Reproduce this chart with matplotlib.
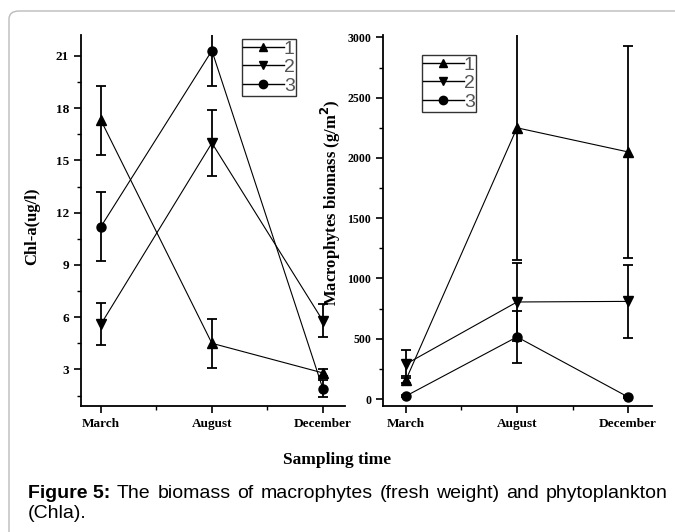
import matplotlib
matplotlib.use('Agg')
import matplotlib.pyplot as plt
from matplotlib.patches import FancyBboxPatch
from matplotlib.lines import Line2D
from matplotlib.ticker import MultipleLocator

months = ['March', 'August', 'December']
series_names = ['1', '2', '3']
markers = ['^', 'v', 'o']

# Chl-a (ug/l)
chla = [[17.3, 4.5, 2.8],
        [5.6, 16.0, 5.8],
        [11.2, 21.3, 1.9]]
chla_err = [[2.0, 1.4, 0.2],
            [1.2, 1.9, 0.95],
            [2.0, 2.0, 0.5]]

# macrophyte biomass
bio = [[160, 2250, 2050],
       [290, 805, 810],
       [25, 515, 17]]
bio_err = [[30, 1100, 880],
           [115, 320, 300],
           [10, 215, 10]]

caption_head = 'Figure 5:'
caption_words = ['The', 'biomass', 'of', 'macrophytes', '(fresh', 'weight)', 'and', 'phytoplankton']
caption_tail = '(Chla).'

serif = 'Liberation Serif'
W, H = 675, 532

fig = plt.figure(figsize=(6.75, 5.32), dpi=100)
frame = FancyBboxPatch((9 / W, -0.05), 1.2, 1 - 11 / H + 0.05,
                       boxstyle='round,pad=0,rounding_size=0.015',
                       transform=fig.transFigure, fc='none', ec='#bbbbbb', lw=1.0)
fig.patches.append(frame)

ax1 = fig.add_axes([81 / W, 1 - 406 / H, (345 - 81) / W, (406 - 35) / H])
ax2 = fig.add_axes([383 / W, 1 - 406 / H, (652 - 383) / W, (406 - 35) / H])

x = list(range(len(months)))


def draw(ax, vals, errs, leg_xy):
    for v, e, m in zip(vals, errs, markers):
        ax.errorbar(x, v, yerr=e, color='black', lw=0.8, elinewidth=1.3,
                    capsize=3.3, capthick=1.3, marker=m, ms=6.5)
    ax.spines['top'].set_visible(False)
    ax.spines['right'].set_visible(False)
    for s in ['left', 'bottom']:
        ax.spines[s].set_linewidth(1.3)
    ax.set_xticks(x)
    ax.set_xticklabels(months)
    ax.xaxis.set_minor_locator(MultipleLocator(0.5))
    ax.tick_params(which='major', direction='out', length=5, width=1.2)
    ax.tick_params(which='minor', direction='out', length=3, width=1.0)
    handles = [Line2D([], [], color='black', lw=1.0, marker=m, ms=6) for m in markers]
    leg = ax.legend(handles, series_names, loc='upper left',
                    bbox_to_anchor=(leg_xy[0] / W, 1 - leg_xy[1] / H),
                    bbox_transform=fig.transFigure, frameon=True, fancybox=False,
                    handlelength=2.1, handletextpad=0.0, borderpad=0.05,
                    borderaxespad=0, labelspacing=0.05,
                    prop={'family': 'Liberation Sans', 'size': 14})
    leg.get_frame().set_edgecolor('black')
    leg.get_frame().set_linewidth(1.0)
    for t in leg.get_texts():
        t.set_color('#555555')


draw(ax1, chla, chla_err, (242, 39))
ax1.set_xlim(-0.18, 2.2)
ax1.set_ylim(0.9, 22.2)
ax1.yaxis.set_major_locator(MultipleLocator(3))
ax1.yaxis.set_minor_locator(MultipleLocator(1.5))
ax1.set_ylabel('Chl-a(ug/l)', fontfamily=serif, fontweight='bold', fontsize=12)
ax1.yaxis.set_label_coords(40 / W, 1 - 226 / H, transform=fig.transFigure)

draw(ax2, bio, bio_err, (422, 55))
ax2.set_xlim(-0.207, 2.216)
ax2.set_ylim(-58, 3020)
ax2.yaxis.set_major_locator(MultipleLocator(500))
ax2.yaxis.set_minor_locator(MultipleLocator(250))
ax2.set_ylabel('Macrophytes biomass (g/m$^\\mathbf{2}$)', fontfamily=serif,
               fontweight='bold', fontsize=12)
ax2.yaxis.set_label_coords(343 / W, 1 - 203 / H, transform=fig.transFigure)

for ax, fs in [(ax1, 9.5), (ax2, 8.5)]:
    for t in ax.get_xticklabels():
        t.set_fontfamily(serif); t.set_fontweight('bold'); t.set_fontsize(9.5)
    for t in ax.get_yticklabels():
        t.set_fontfamily(serif); t.set_fontweight('bold'); t.set_fontsize(fs)

fig.text(337 / W, 1 - 460 / H, 'Sampling time', ha='center', va='center',
         fontfamily=serif, fontweight='bold', fontsize=12.5)

# justified caption, first line spans x=28..668
cap_fs = 14
y1 = 1 - 494 / H
renderer = fig.canvas.get_renderer()
texts = [fig.text(0, y1, caption_head, fontfamily='Liberation Sans', fontweight='bold',
                  fontsize=cap_fs, va='center')]
for w in caption_words:
    texts.append(fig.text(0, y1, w, fontfamily='Liberation Sans', fontsize=cap_fs, va='center'))
widths = [t.get_window_extent(renderer).width for t in texts]
left, right = 28, 668
gap = (right - left - sum(widths)) / (len(texts) - 1)
pos = left
for t, w in zip(texts, widths):
    t.set_x(pos / W)
    pos += w + gap
fig.text(28 / W, 1 - 513 / H, caption_tail, fontfamily='Liberation Sans',
         fontsize=cap_fs, va='center')

fig.savefig('out.png', dpi=100)
